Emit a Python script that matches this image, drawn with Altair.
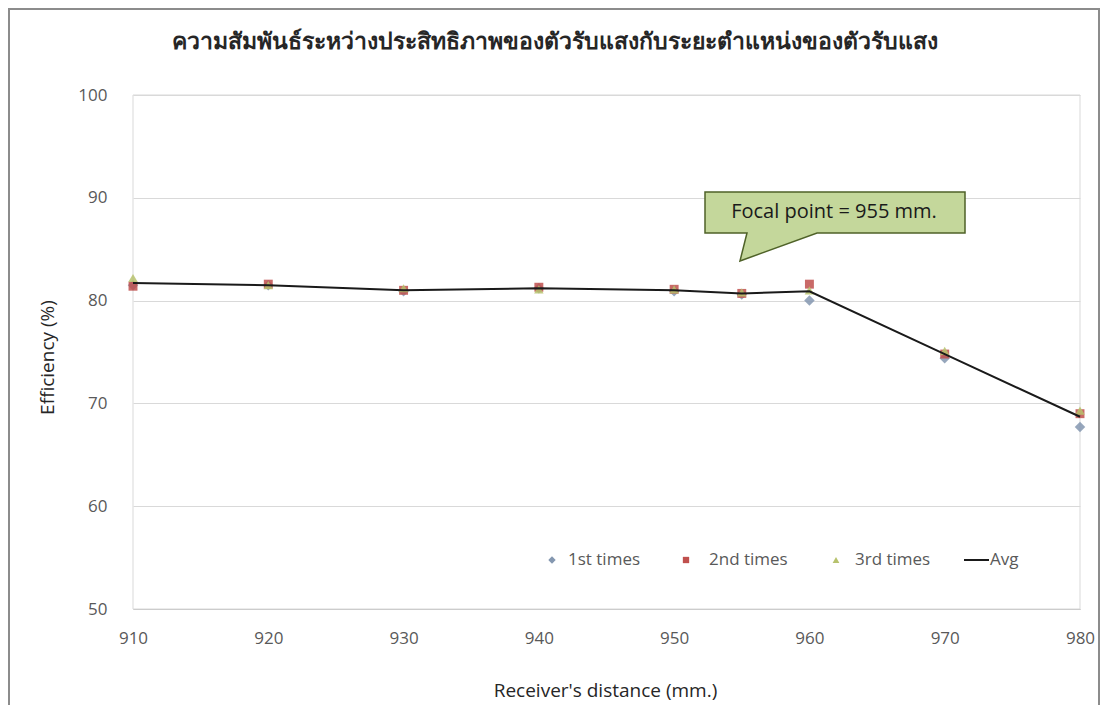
import altair as alt
import pandas as pd

distance = [910, 920, 930, 940, 950, 955, 960, 970, 980]
first_times = [81.5, 81.5, 80.9, 81.2, 80.9, 80.6, 80.0, 74.4, 67.7]
second_times = [81.4, 81.6, 81.0, 81.3, 81.1, 80.7, 81.6, 74.8, 69.0]
third_times = [82.2, 81.5, 81.2, 81.1, 81.1, 80.8, 81.0, 75.1, 69.3]
avg = [81.7, 81.5, 81.0, 81.2, 81.0, 80.7, 80.9, 74.8, 68.7]

series_names = ["1st times", "2nd times", "3rd times", "Avg"]
title_text = "ความสัมพันธ์ระหว่างประสิทธิภาพของตัวรับแสงกับระยะตำแหน่งของตัวรับแสง"
callout_text = "Focal point = 955 mm."

W, H = 947, 514
FONT = "Open Sans"
LABEL_COLOR = "#595959"

rows = []
for name, vals in zip(series_names, [first_times, second_times, third_times, avg]):
    for d, v in zip(distance, vals):
        rows.append({"distance": d, "efficiency": v, "series": name})
df = pd.DataFrame(rows)

xscale = alt.Scale(domain=[910, 980], nice=False, zero=False)
yscale = alt.Scale(domain=[50, 100], nice=False, zero=False)

xaxis = alt.Axis(values=[910, 920, 930, 940, 950, 960, 970, 980], title="Receiver's distance (mm.)",
                 grid=False, domain=True, domainColor="#bfbfbf", ticks=False, labelFlush=False,
                 labelFont=FONT, labelFontSize=17, labelColor=LABEL_COLOR, labelPadding=21,
                 titleFont=FONT, titleFontSize=19, titleFontWeight="normal", titleColor="#262626",
                 titleX=472, titleY=81, titleBaseline="middle", titleAnchor="middle")
yaxis = alt.Axis(values=[50, 60, 70, 80, 90, 100], title="Efficiency (%)",
                 grid=True, gridColor="#d9d9d9", domain=False, ticks=False,
                 labelFont=FONT, labelFontSize=17, labelColor=LABEL_COLOR, labelPadding=26,
                 titleFont=FONT, titleFontSize=19, titleFontWeight="normal", titleColor="#262626",
                 titleX=-86, titleY=262, titleAngle=-90, titleBaseline="middle", titleAnchor="middle")

base = alt.Chart(df)

def pts(name, shape, color, size):
    return base.transform_filter(alt.datum.series == name).mark_point(
        shape=shape, filled=True, color=color, size=size, opacity=0.85
    ).encode(
        x=alt.X("distance:Q", scale=xscale, axis=xaxis),
        y=alt.Y("efficiency:Q", scale=yscale, axis=yaxis),
    )

c1, c2, c3 = "#8497b0", "#c0504d", "#b7c26d"
p1 = pts(series_names[0], "diamond", c1, 110)
p2 = pts(series_names[1], "square", c2, 80)
p3 = pts(series_names[2], "triangle-up", c3, 90)

line = base.transform_filter(alt.datum.series == series_names[3]).mark_line(
    color="#1a1a1a", strokeWidth=2
).encode(x=alt.X("distance:Q", scale=xscale), y=alt.Y("efficiency:Q", scale=yscale))

# plot-area side edges
edges = alt.Chart(pd.DataFrame({"a": [0]})).mark_rect(
    fill=None, stroke="#d9d9d9", strokeWidth=1
).encode(x=alt.value(0), x2=alt.value(W), y=alt.value(0), y2=alt.value(H))

# outer border
border = alt.Chart(pd.DataFrame({"a": [0]})).mark_rect(
    fill=None, stroke="#8c8c8c", strokeWidth=2
).encode(x=alt.value(-124), x2=alt.value(W + 19), y=alt.value(-86), y2=alt.value(H + 140))

# title
title = alt.Chart(pd.DataFrame({"t": [title_text]})).mark_text(
    font="Noto Sans", fontSize=23, fontWeight="bold", color="#262626", align="center", baseline="middle"
).encode(text="t:N", x=alt.value(422), y=alt.value(-53))

# callout
cpath = ("M -1 -0.158 L 1 -0.158 L 1 0.158 L -0.138 0.158 L -0.731 0.373 "
         "L -0.677 0.158 L -1 0.158 Z")
callout_shape = alt.Chart(pd.DataFrame({"a": [0]})).mark_point(
    shape=cpath, filled=True, fill="#c4d79b", stroke="#4f6228", strokeWidth=1.5,
    size=(2 * 130) ** 2, opacity=1
).encode(x=alt.value(702), y=alt.value(117.5))
callout_txt = alt.Chart(pd.DataFrame({"t": [callout_text]})).mark_text(
    font=FONT, fontSize=20, color="#1a1a1a", align="center", baseline="middle"
).encode(text="t:N", x=alt.value(701), y=alt.value(117))

# legend
ly = 465
leg_layers = []
leg_items = [(419, 435, "diamond", c1, 55), (553, 576, "square", c2, 40), (703, 722, "triangle-up", c3, 45)]
for i, (lx, tx, shp, col, sz) in enumerate(leg_items):
    leg_layers.append(alt.Chart(pd.DataFrame({"a": [0]})).mark_point(
        shape=shp, filled=True, color=col, size=sz, opacity=1
    ).encode(x=alt.value(lx), y=alt.value(ly)))
    leg_layers.append(alt.Chart(pd.DataFrame({"t": [series_names[i]]})).mark_text(
        font=FONT, fontSize=17, color=LABEL_COLOR, align="left", baseline="middle"
    ).encode(text="t:N", x=alt.value(tx), y=alt.value(ly)))
leg_layers.append(alt.Chart(pd.DataFrame({"a": [0]})).mark_rule(
    color="#1a1a1a", strokeWidth=2
).encode(x=alt.value(831), x2=alt.value(856), y=alt.value(ly)))
leg_layers.append(alt.Chart(pd.DataFrame({"t": [series_names[3]]})).mark_text(
    font=FONT, fontSize=17, color=LABEL_COLOR, align="left", baseline="middle"
).encode(text="t:N", x=alt.value(857), y=alt.value(ly)))

chart = alt.layer(
    edges, p1, p2, p3, line, callout_shape, callout_txt, title, border, *leg_layers
).properties(
    width=W, height=H,
    autosize=alt.AutoSizeParams(type="none"),
    padding={"left": 125, "top": 87, "right": 20, "bottom": 96},
    background="white",
).configure_view(stroke=None)

chart.save("out.html", embed_options={"renderer": "svg", "actions": False})
